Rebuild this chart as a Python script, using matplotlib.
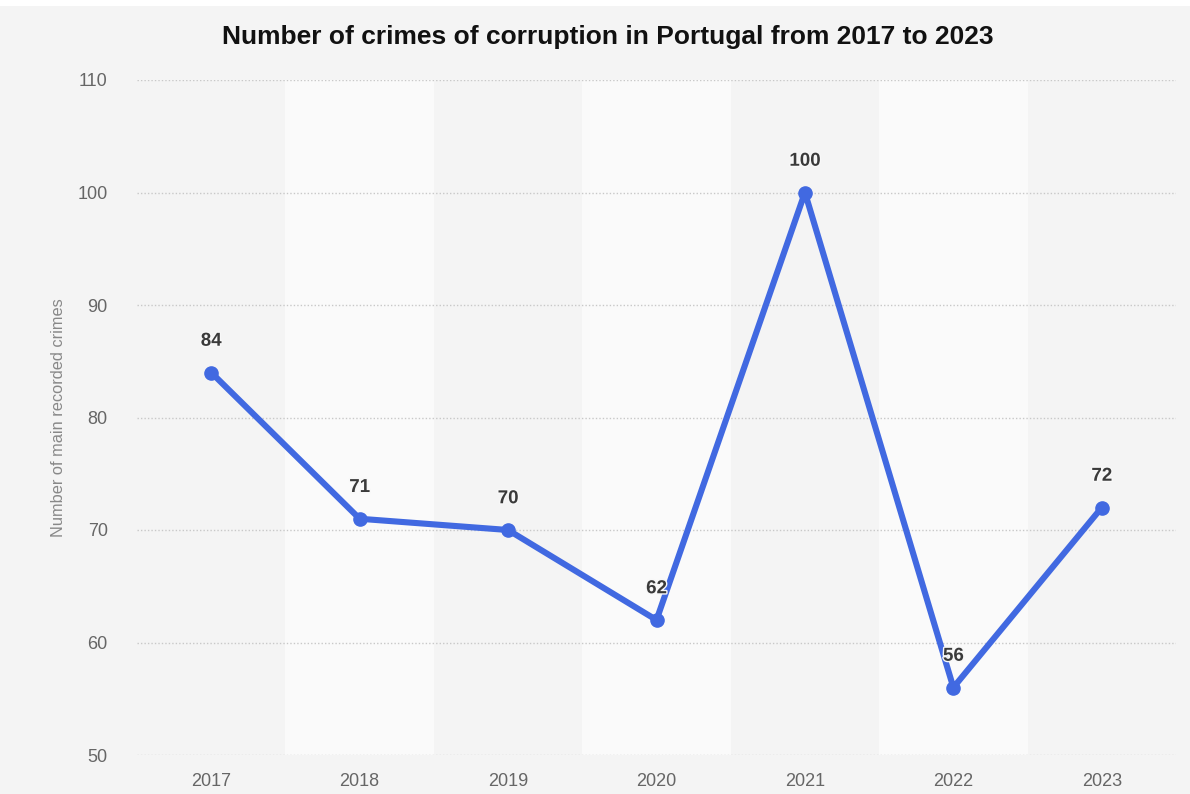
import numpy as np
import matplotlib
matplotlib.use("Agg")
import matplotlib.pyplot as plt
import matplotlib.patheffects as pe
from matplotlib.patches import Rectangle

# data
years = ["2017", "2018", "2019", "2020", "2021", "2022", "2023"]
crimes = [84, 71, 70, 62, 100, 56, 72]
yticks = [50, 60, 70, 80, 90, 100, 110]

plt.rcParams['font.family'] = ['Liberation Sans', 'DejaVu Sans']

bg = "#f4f4f4"
band = "#fafafa"
blue = "#4169e1"

fig = plt.figure(figsize=(11.9, 7.94), dpi=100, facecolor=bg)
# thin white strip at the very top
fig.patches.append(Rectangle((0, 1 - 6 / 794), 1, 6 / 794, transform=fig.transFigure,
                             facecolor="white", edgecolor="none", zorder=0))

ax = fig.add_axes([137 / 1190, 1 - 755 / 794, 1039 / 1190, 675 / 794])
ax.set_facecolor(bg)

x = np.arange(len(years))
ax.set_xlim(-0.5, len(years) - 0.5)
ax.set_ylim(50, 110)

# alternating column bands
for i in x:
    if i % 2 == 1:
        ax.axvspan(i - 0.5, i + 0.5, color=band, zorder=0, lw=0)

ax.set_yticks(yticks)
ax.yaxis.grid(True, linestyle=(0, (1, 1.5)), color="#c8c8c8", linewidth=1.0, zorder=1)
ax.set_axisbelow(True)

ax.plot(x, crimes, color=blue, linewidth=4.4, marker="o", markersize=9.5,
        solid_capstyle="round", solid_joinstyle="round", zorder=3, clip_on=False)

for xi, v in zip(x, crimes):
    ax.annotate(str(v), (xi, v), xytext=(0, 22.5), textcoords="offset points",
                ha="center", va="center", fontsize=13.5, fontweight="bold",
                color="#3a3a3a", zorder=4,
                path_effects=[pe.withStroke(linewidth=2, foreground="#f8f8f8")])

ax.set_xticks(x)
ax.set_xticklabels(years)
ax.tick_params(axis="both", length=0, labelsize=13, colors="#666666")
ax.tick_params(axis="x", pad=13)
ax.tick_params(axis="y", pad=21)
for s in ax.spines.values():
    s.set_visible(False)

ax.set_ylabel("Number of main recorded crimes", fontsize=11.8, color="#888888", labelpad=8)

fig.text(608 / 1190, 1 - 37 / 794, "Number of crimes of corruption in Portugal from 2017 to 2023",
         ha="center", va="center", fontsize=19, fontweight="bold", color="#111111")

fig.savefig("out.png", dpi=100, facecolor=bg)
